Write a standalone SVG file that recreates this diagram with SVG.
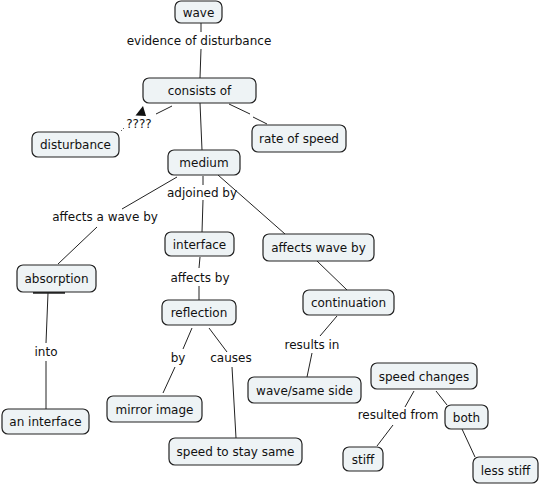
<svg xmlns="http://www.w3.org/2000/svg" width="541" height="485" viewBox="0 0 541 485">
<style>
.n rect{fill:#eef3f5;stroke:#222;stroke-width:1.2}
text{font-family:"DejaVu Sans",Verdana,sans-serif;font-size:12px;fill:#111;text-anchor:middle}
.c line{stroke:#222;stroke-width:1}
</style>
<rect width="541" height="485" fill="#fff"/>
<g class="c" id="connectors">
<line x1="201" y1="23" x2="201" y2="32"/>
<line x1="201" y1="49" x2="200" y2="78"/>
<line x1="200" y1="103" x2="202" y2="150"/>
<line x1="229" y1="104" x2="250" y2="114"/>
<line x1="253" y1="117" x2="267" y2="124"/>
<line x1="172" y1="106" x2="156" y2="114"/>
<polygon points="135.5,115.5 143,106 146,116" fill="#111"/>
<line x1="124" y1="128" x2="121" y2="131" stroke-dasharray="1,2"/>
<line x1="203" y1="176" x2="203" y2="185"/>
<line x1="203" y1="200" x2="202" y2="232"/>
<line x1="177" y1="177" x2="122" y2="209"/>
<line x1="97" y1="227" x2="58" y2="264"/>
<line x1="218" y1="175" x2="285" y2="234"/>
<line x1="317" y1="261" x2="347" y2="290"/>
<line x1="48" y1="293" x2="46" y2="343"/>
<line x1="46" y1="361" x2="46" y2="409"/>
<line x1="33" y1="292.5" x2="65" y2="292.5" style="stroke-width:2.5"/>
<line x1="200" y1="257" x2="199" y2="268"/>
<line x1="199" y1="286" x2="199" y2="300"/>
<line x1="192" y1="328" x2="183" y2="349"/>
<line x1="175" y1="367" x2="163" y2="393"/>
<line x1="209" y1="328" x2="227" y2="352"/>
<line x1="232" y1="367" x2="236" y2="438"/>
<line x1="337" y1="316" x2="320" y2="336"/>
<line x1="312" y1="353" x2="307" y2="377"/>
<line x1="414" y1="391" x2="405" y2="407"/>
<line x1="393" y1="425" x2="377" y2="446"/>
<line x1="436" y1="391" x2="447" y2="405"/>
<line x1="462" y1="429" x2="475" y2="457"/>
</g>
<g id="labels">
<text x="199" y="45">evidence of disturbance</text>
<text x="139" y="128">????</text>
<text x="202" y="197">adjoined by</text>
<text x="105" y="221">affects a wave by</text>
<text x="200" y="282">affects by</text>
<text x="46" y="356">into</text>
<text x="178" y="362">by</text>
<text x="231" y="362">causes</text>
<text x="312" y="349">results in</text>
<text x="398" y="419">resulted from</text>
</g>
<g class="n" id="n-wave"><rect x="175" y="1" width="47" height="22" rx="6"/><text x="198.5" y="16.5">wave</text></g>
<g class="n" id="n-consists"><rect x="143" y="78" width="113" height="25" rx="6"/><text x="199.5" y="95">consists of</text></g>
<g class="n" id="n-disturbance"><rect x="32" y="132" width="87" height="25" rx="6"/><text x="75.5" y="149">disturbance</text></g>
<g class="n" id="n-rate"><rect x="252" y="125" width="94" height="27" rx="6"/><text x="299" y="143">rate of speed</text></g>
<g class="n" id="n-medium"><rect x="168" y="150" width="72" height="25" rx="6"/><text x="204" y="167">medium</text></g>
<g class="n" id="n-absorption"><rect x="17" y="265" width="79" height="27" rx="6"/><text x="56.5" y="283">absorption</text></g>
<g class="n" id="n-interface"><rect x="165" y="232" width="69" height="24" rx="6"/><text x="199.5" y="248.5">interface</text></g>
<g class="n" id="n-affects"><rect x="263" y="234" width="111" height="27" rx="6"/><text x="318.5" y="252">affects wave by</text></g>
<g class="n" id="n-reflection"><rect x="162" y="300" width="74" height="25" rx="6"/><text x="199" y="317">reflection</text></g>
<g class="n" id="n-continuation"><rect x="303" y="290" width="91" height="25" rx="6"/><text x="348.5" y="307">continuation</text></g>
<g class="n" id="n-mirror"><rect x="107" y="396" width="95" height="26" rx="6"/><text x="154.5" y="413.5">mirror image</text></g>
<g class="n" id="n-samespeed"><rect x="169" y="438" width="133" height="27" rx="6"/><text x="235.5" y="456">speed to stay same</text></g>
<g class="n" id="n-wavesame"><rect x="248" y="377" width="113" height="26" rx="6"/><text x="304.5" y="394.5">wave/same side</text></g>
<g class="n" id="n-aninterface"><rect x="2" y="409" width="87" height="25" rx="6"/><text x="45.5" y="426">an interface</text></g>
<g class="n" id="n-speedchanges"><rect x="371" y="363" width="106" height="26" rx="6"/><text x="424" y="380.5">speed changes</text></g>
<g class="n" id="n-both"><rect x="445" y="405" width="43" height="24" rx="6"/><text x="466.5" y="421.5">both</text></g>
<g class="n" id="n-stiff"><rect x="343" y="447" width="40" height="24" rx="6"/><text x="363" y="463.5">stiff</text></g>
<g class="n" id="n-lessstiff"><rect x="473" y="457" width="65" height="26" rx="6"/><text x="505.5" y="474.5">less stiff</text></g>
</svg>
